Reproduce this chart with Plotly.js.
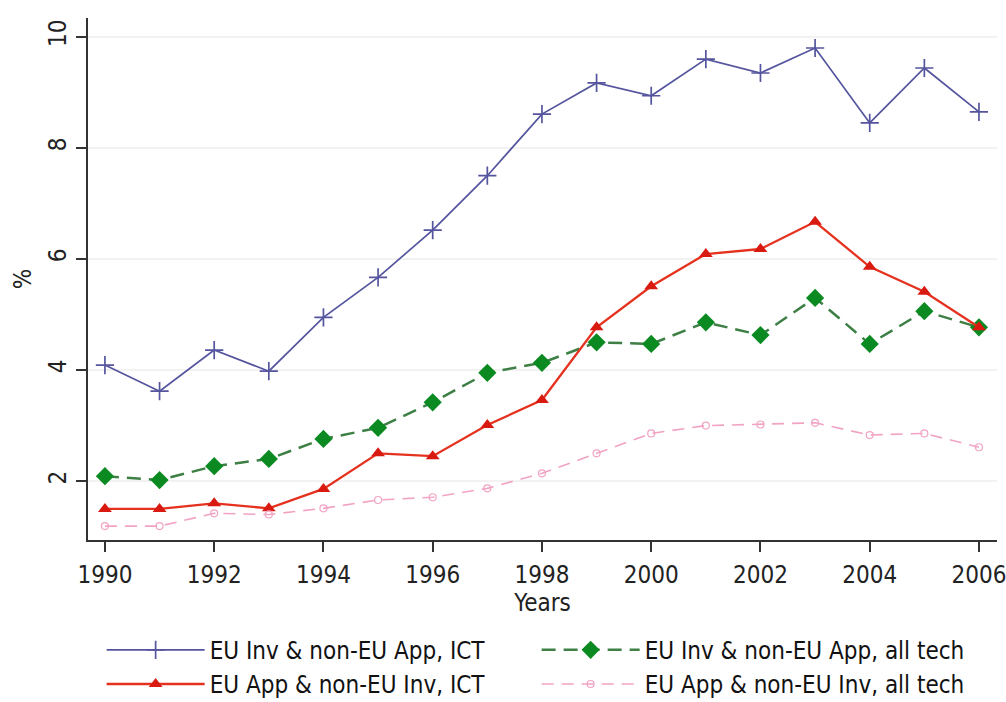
<!DOCTYPE html>
<html>
<head>
<meta charset="utf-8">
<script src="https://cdn.plot.ly/plotly-3.0.1.min.js"></script>
<style>html,body{margin:0;padding:0;background:#fff;}#chart{width:1006px;height:702px;}</style>
</head>
<body>
<div id="chart"></div>
<script>
var years = [1990,1991,1992,1993,1994,1995,1996,1997,1998,1999,2000,2001,2002,2003,2004,2005,2006];
var euInvIct = [4.09,3.62,4.36,3.98,4.95,5.67,6.52,7.50,8.61,9.17,8.94,9.60,9.35,9.80,8.45,9.44,8.65];
var euAppIct = [1.50,1.50,1.60,1.51,1.86,2.50,2.45,3.01,3.46,4.77,5.51,6.09,6.18,6.67,5.86,5.41,4.77];
var euInvAll = [2.09,2.02,2.27,2.40,2.76,2.96,3.42,3.95,4.13,4.50,4.47,4.86,4.63,5.30,4.47,5.06,4.77];
var euAppAll = [1.19,1.19,1.42,1.40,1.51,1.66,1.71,1.87,2.14,2.50,2.86,3.00,3.02,3.05,2.83,2.86,2.61];
var names = ["EU Inv & non-EU App, ICT","EU Inv & non-EU App, all tech","EU App & non-EU Inv, ICT","EU App & non-EU Inv, all tech"];
var xTicks = [1990,1992,1994,1996,1998,2000,2002,2004,2006];
var yTicks = [2,4,6,8,10];

var FONT = '"Liberation Sans Narrow", "Arial Narrow", "DejaVu Sans Condensed", "Liberation Sans", Arial, sans-serif';

var traces = [
  {x: years, y: euInvIct, name: names[0], mode: 'lines+markers',
   line: {color: '#55559f', width: 1.7},
   marker: {symbol: 'cross-thin-open', size: 13, line: {color: '#55559f', width: 1.7}}},
  {x: years, y: euInvAll, name: names[1], mode: 'lines+markers',
   line: {color: '#3d7f45', width: 2.5, dash: '14px,8px'},
   marker: {symbol: 'diamond', size: 14, color: '#0b8a22'}},
  {x: years, y: euAppIct, name: names[2], mode: 'lines+markers',
   line: {color: '#e5321f', width: 2.3},
   marker: {symbol: 'triangle-up', size: 12, color: '#d91a10'}},
  {x: years, y: euAppAll, name: names[3], mode: 'lines+markers',
   line: {color: '#f2a3c4', width: 1.6, dash: '12px,8px'},
   marker: {symbol: 'circle-open', size: 7, line: {color: '#ef8fb8', width: 1.2}}}
];

var layout = {
  width: 1006, height: 702,
  paper_bgcolor: '#ffffff', plot_bgcolor: '#ffffff',
  margin: {l: 88, r: 9, t: 18, b: 162, autoexpand: false},
  font: {family: FONT, color: '#222', size: 24},
  xaxis: {
    range: [1989.69, 2006.33], tickvals: xTicks, ticktext: xTicks.map(String),
    ticks: 'outside', ticklen: 10, tickwidth: 2, tickcolor: '#333', ticklabelstandoff: 2,
    ticklabeloverflow: 'allow',
    showline: true, linecolor: '#333', linewidth: 2, showgrid: false, zeroline: false,
    tickfont: {size: 24}, title: {text: 'Years', font: {size: 24}, standoff: 0}
  },
  yaxis: {
    range: [0.94, 10.34], tickvals: yTicks, ticktext: yTicks.map(String),
    ticks: 'outside', ticklen: 10, tickwidth: 2, tickcolor: '#333', tickangle: -90,
    ticklabelstandoff: 0,
    showline: true, linecolor: '#333', linewidth: 2,
    showgrid: true, gridcolor: '#f2f2f2', gridwidth: 1.5, zeroline: false,
    tickfont: {size: 24}, title: {text: '%', font: {size: 24}, standoff: 6}
  },
  legend: {
    orientation: 'h', x: 0.015, xanchor: 'left', y: -0.168, yanchor: 'top',
    entrywidth: 322, entrywidthmode: 'pixels', itemwidth: 98,
    font: {size: 24, color: '#111'}, bgcolor: 'rgba(0,0,0,0)', tracegroupgap: 0
  },
  showlegend: true
};

Plotly.newPlot('chart', traces, layout, {displayModeBar: false, staticPlot: true});
</script>
</body>
</html>
